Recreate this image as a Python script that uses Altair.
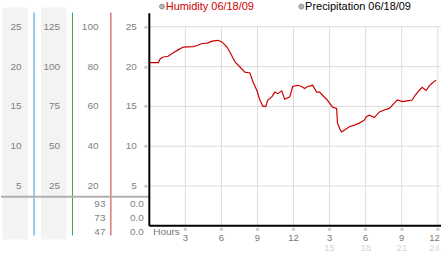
import altair as alt
import pandas as pd

# ---------------- data ----------------
hum_hours = [0.0, 0.75, 0.91, 1.16, 1.57, 1.99, 2.40, 2.82, 3.65, 3.98, 4.39, 4.81, 5.22, 5.72, 6.05,
             6.46, 6.71, 7.13, 7.54, 7.95, 8.37, 8.62, 8.95, 9.2, 9.45, 9.69, 9.86, 10.19, 10.44, 10.69,
             11.02, 11.27, 11.68, 11.93, 12.34, 12.68, 12.92, 13.17, 13.59, 13.92, 14.17, 14.41, 14.75,
             15.0, 15.24, 15.58, 15.66, 15.82, 15.99, 16.24, 16.65, 17.07, 17.48, 17.9, 18.06, 18.31,
             18.72, 19.14, 19.55, 19.97, 20.38, 20.63, 21.04, 21.46, 21.87, 22.12, 22.45, 22.7, 23.03,
             23.28, 23.53, 23.86]
hum_values = [20.5, 20.5, 21.0, 21.2, 21.3, 21.75, 22.1, 22.45, 22.5, 22.65, 22.9, 22.95, 23.2, 23.3, 23.1,
              22.45, 21.8, 20.6, 19.95, 19.3, 19.2, 18.1, 17.0, 15.8, 15.0, 15.0, 15.8, 16.2, 16.8, 16.6,
              16.95, 15.9, 16.2, 17.5, 17.65, 17.5, 17.25, 17.5, 17.65, 16.8, 16.8, 16.4, 15.9,
              15.4, 14.9, 14.75, 12.9, 12.25, 11.8, 12.05, 12.45, 12.65, 12.9, 13.3, 13.7, 13.9,
              13.6, 14.3, 14.55, 14.75, 15.4, 15.8, 15.6, 15.7, 15.8, 16.4, 17.0, 17.4, 17.0,
              17.55, 17.9, 18.3]

y_ticks = [5, 10, 15, 20, 25]
col_labels = [
    ["5", "10", "15", "20", "25"],
    ["25", "50", "75", "100", "125"],
    ["20", "40", "60", "80", "100"],
    ["5", "10", "15", "20", "25"],
]
col_factors = [1, 5, 4, 1]
col_line_colors = ["#3399cc", "#33aa33", "#cc3333"]
table_col3 = ["93", "73", "47"]
table_col4 = ["0.0", "0.0", "0.0"]

x_ticks = [3, 6, 9, 12, 15, 18, 21, 24]
x_labels = ["3", "6", "9", "12", "3", "6", "9", "12"]
x_labels2 = ["", "", "", "", "15", "18", "21", "24"]

legend_labels = ["Humidity 06/18/09", "Precipitation 06/18/09"]
legend_colors = ["#cc0000", "#000000"]

# ---------------- layout ----------------
H = 253
W_LEFT = 149
W_RIGHT = 293
Y_DOM = [-3.34, 28.29]
X_DOM = [0, 24.27]
Y_TOP = 26.7
GRID_TOP = 25
FONT = "Liberation Sans"
LABEL_GRAY = "#808080"

ysc = alt.Scale(domain=Y_DOM, nice=False, zero=False)
xsc = alt.Scale(domain=X_DOM, nice=False, zero=False)
csc = alt.Scale(domain=[0.14, 4.0], nice=False, zero=False)

# ---------------- right panel ----------------
hgrid = alt.Chart(pd.DataFrame({"y": y_ticks, "x0": X_DOM[0], "x1": X_DOM[1]})).mark_rule(
    color="#dddddd", strokeWidth=1).encode(
    y=alt.Y("y:Q", scale=ysc, axis=None),
    x=alt.X("x0:Q", scale=xsc, axis=None), x2="x1:Q")

vgrid = alt.Chart(pd.DataFrame({"x": x_ticks, "y0": 0, "y1": GRID_TOP})).mark_rule(
    color="#dddddd", strokeWidth=1).encode(
    x=alt.X("x:Q", scale=xsc, axis=None),
    y=alt.Y("y0:Q", scale=ysc, axis=None), y2="y1:Q")

hum_df = pd.DataFrame({"h": hum_hours, "v": hum_values})
hum_line = alt.Chart(hum_df).mark_line(color="#cc0000", strokeWidth=1.2).encode(
    x=alt.X("h:Q", scale=xsc, axis=None),
    y=alt.Y("v:Q", scale=ysc, axis=None))

vaxis = alt.Chart(pd.DataFrame({"x": [0], "y0": [0], "y1": [Y_TOP]})).mark_rule(
    color="#000000", strokeWidth=2).encode(
    x=alt.X("x:Q", scale=xsc, axis=None),
    y=alt.Y("y0:Q", scale=ysc, axis=None), y2="y1:Q")

haxis = alt.Chart(pd.DataFrame({"y": [0], "x0": [X_DOM[0]], "x1": [X_DOM[1]]})).mark_rule(
    color="#000000", strokeWidth=2).encode(
    y=alt.Y("y:Q", scale=ysc, axis=None),
    x=alt.X("x0:Q", scale=xsc, axis=None), x2="x1:Q")

xt = pd.DataFrame({"x": x_ticks, "lab": x_labels, "lab2": x_labels2, "y": 0})
xt_main = xt[xt["x"] < X_DOM[1] - 1]
xt_last = xt[xt["x"] >= X_DOM[1] - 1]

tick_marks = alt.Chart(xt).mark_text(text="※", fontSize=5, color="#999999", dy=3.5,
                                     baseline="middle", font="DejaVu Sans").encode(
    x=alt.X("x:Q", scale=xsc, axis=None), y=alt.Y("y:Q", scale=ysc, axis=None))

TL_SIZE = 9.5
xl1 = alt.Chart(xt_main).mark_text(fontSize=TL_SIZE, color="#777777", dy=12.5, baseline="middle",
                                   font=FONT).encode(
    x=alt.X("x:Q", scale=xsc, axis=None), y=alt.Y("y:Q", scale=ysc, axis=None), text="lab:N")
xl2 = alt.Chart(xt_main).mark_text(fontSize=TL_SIZE, color="#d4d4d4", dy=22.5, baseline="middle",
                                   font=FONT).encode(
    x=alt.X("x:Q", scale=xsc, axis=None), y=alt.Y("y:Q", scale=ysc, axis=None), text="lab2:N")
xl1_last = alt.Chart(xt_last).mark_text(fontSize=TL_SIZE, color="#777777", dy=12.5, dx=2, align="right",
                                        baseline="middle", font=FONT).encode(
    x=alt.X("x:Q", scale=xsc, axis=None), y=alt.Y("y:Q", scale=ysc, axis=None), text="lab:N")
xl2_last = alt.Chart(xt_last).mark_text(fontSize=TL_SIZE, color="#d4d4d4", dy=22.5, dx=2, align="right",
                                        baseline="middle", font=FONT).encode(
    x=alt.X("x:Q", scale=xsc, axis=None), y=alt.Y("y:Q", scale=ysc, axis=None), text="lab2:N")

hours_lbl = alt.Chart(pd.DataFrame({"x": [0], "y": [0], "t": ["Hours"]})).mark_text(
    fontSize=10, color="#777777", dx=4, dy=6, align="left", baseline="middle", font=FONT).encode(
    x=alt.X("x:Q", scale=xsc, axis=None), y=alt.Y("y:Q", scale=ysc, axis=None), text="t:N")

LEG_X = [12.7, 152.7]
LEG_Y = 6
legend_layers = []
for lx, lab, col in zip(LEG_X, legend_labels, legend_colors):
    src = pd.DataFrame({"t": [lab]})
    legend_layers.append(alt.Chart(src).mark_circle(size=26, color="#b4b4b4", opacity=1,
                                                    stroke="#8a8a8a", strokeWidth=0.8).encode(
        x=alt.value(lx), y=alt.value(LEG_Y)))
    legend_layers.append(alt.Chart(src).mark_text(fontSize=11, color=col, align="left",
                                                  baseline="middle", font=FONT).encode(
        x=alt.value(lx + 3.8), y=alt.value(LEG_Y), text="t:N"))

right = alt.layer(hgrid, vgrid, hum_line, vaxis, haxis, tick_marks, xl1, xl2, xl1_last, xl2_last,
                  hours_lbl, *legend_layers).properties(width=W_RIGHT, height=H)

# ---------------- left panel ----------------
bg = alt.Chart(pd.DataFrame({"a": [0, 1], "b": [1, 2]})).mark_rect(
    color="#f3f3f3", xOffset=7, x2Offset=-6).encode(
    x=alt.X("a:Q", scale=csc, axis=None), x2="b:Q",
    y=alt.value(7), y2=alt.value(240))

vlines = alt.Chart(pd.DataFrame({"col": [1, 2, 3], "c": col_line_colors})).mark_rule(
    strokeWidth=1).encode(
    x=alt.X("col:Q", scale=csc, axis=None),
    y=alt.value(12), y2=alt.value(236),
    color=alt.Color("c:N", scale=None))

sep = alt.Chart(pd.DataFrame({"k": [0]})).mark_rule(color="#b0b0b0", strokeWidth=2).encode(
    x=alt.value(0), x2=alt.value(W_LEFT), y=alt.value(197))

rows = []
for c, (labs, f) in enumerate(zip(col_labels, col_factors), start=1):
    for lab in labs:
        rows.append({"col": c, "lab": lab, "v": float(lab) / f})
lab_df = pd.DataFrame(rows)
col_text = alt.Chart(lab_df).mark_text(fontSize=10, color=LABEL_GRAY, align="right",
                                       baseline="middle", dx=-12.5, font=FONT).encode(
    x=alt.X("col:Q", scale=csc, axis=None),
    y=alt.Y("v:Q", scale=ysc, axis=None), text="lab:N")

ystars = alt.Chart(pd.DataFrame({"col": 4, "v": y_ticks})).mark_text(
    text="※", fontSize=5, color="#999999", dx=-3.5, baseline="middle", font="DejaVu Sans").encode(
    x=alt.X("col:Q", scale=csc, axis=None), y=alt.Y("v:Q", scale=ysc, axis=None))

table_layers = []
for i, (a, b) in enumerate(zip(table_col3, table_col4)):
    tdf = pd.DataFrame({"col": [3, 4], "lab": [a, b], "y": [0, 0]})
    table_layers.append(alt.Chart(tdf).mark_text(fontSize=10, color=LABEL_GRAY, align="right",
                                                 baseline="middle", dx=-5.5, dy=-22 + 14 * i,
                                                 font=FONT).encode(
        x=alt.X("col:Q", scale=csc, axis=None),
        y=alt.Y("y:Q", scale=ysc, axis=None), text="lab:N"))

left = alt.layer(bg, vlines, sep, col_text, ystars, *table_layers).properties(width=W_LEFT, height=H)

chart = alt.hconcat(left, right, spacing=0, bounds="flush").properties(padding=0).configure_view(
    stroke=None)

chart.save("out.html", embed_options={"renderer": "svg", "actions": False})
